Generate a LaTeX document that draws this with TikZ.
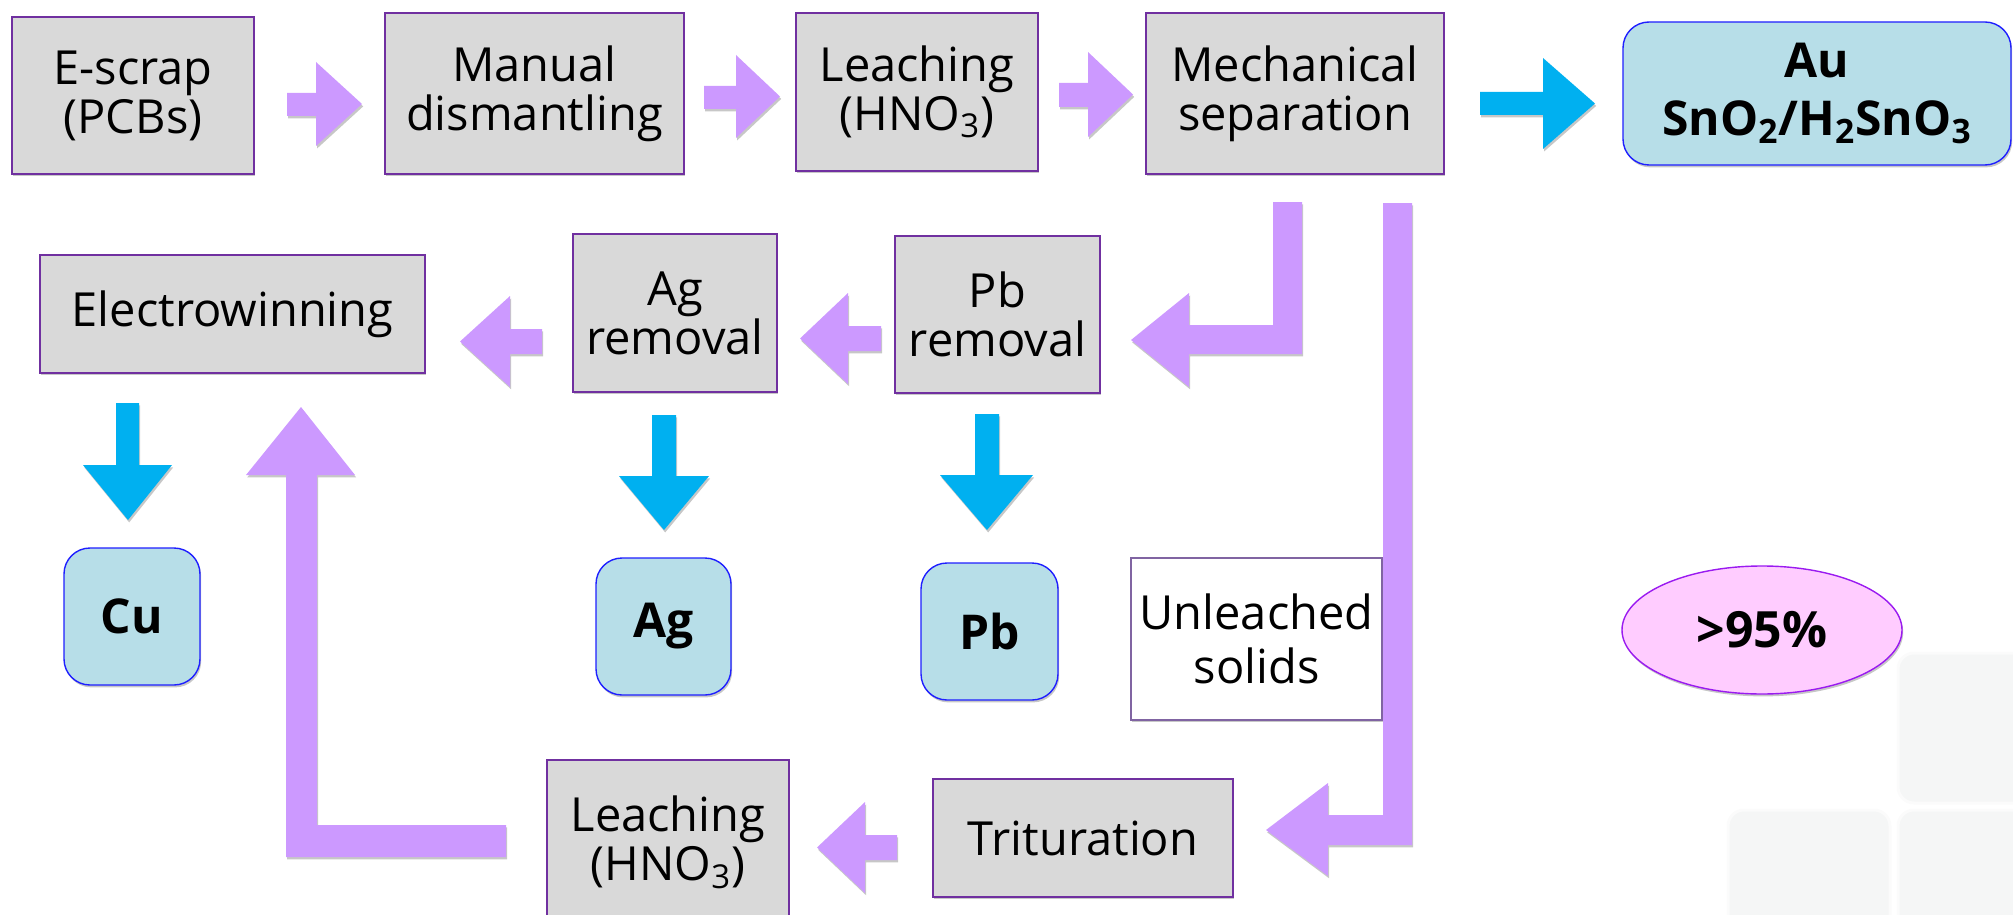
\documentclass[tikz,border=0pt]{standalone}
\usepackage{fontspec}
\setmainfont{Open Sans}
\usetikzlibrary{shapes.geometric,shadows}
\definecolor{boxgray}{HTML}{D9D9D9}
\definecolor{boxedge}{HTML}{7030A0}
\definecolor{parrow}{HTML}{CC99FF}
\definecolor{barrow}{HTML}{00B0F0}
\definecolor{bluefill}{HTML}{B7DEE8}
\definecolor{blueedge}{HTML}{1F1FFF}
\definecolor{pinkfill}{HTML}{FFCCFF}
\definecolor{pinkedge}{HTML}{9A1AF0}
\definecolor{tilefill}{HTML}{F5F6F6}
\definecolor{whiteedge}{HTML}{8064A2}
\begin{document}
\begin{tikzpicture}[x=0.5pt,y=-0.5pt,
  shad/.style={drop shadow={shadow xshift=0.6pt,shadow yshift=-1.2pt,opacity=0.22,fill=black}},
  gbox/.style={draw=boxedge,line width=0.7pt,fill=boxgray,inner sep=0pt,align=center,
    font=\fontsize{23.5}{24.5}\selectfont,shad},
  wbox/.style={draw=whiteedge,line width=0.6pt,fill=white,inner sep=0pt,align=center,
    font=\fontsize{23.5}{27}\selectfont,shad},
  bbox/.style={draw=blueedge,line width=0.7pt,fill=bluefill,rounded corners=13pt,inner sep=0pt,
    align=center,font=\fontsize{24}{29}\selectfont\bfseries,shad},
  pell/.style={ellipse,draw=pinkedge,line width=0.7pt,fill=pinkfill,inner sep=0pt,
    minimum width=140pt,minimum height=64pt,font=\fontsize{25}{29}\selectfont\bfseries,shad},
  sz/.style 2 args={minimum width=#1pt,minimum height=#2pt},
  parr/.style={fill=parrow,shad},
  barr/.style={fill=barrow,shad},
  tile/.style={fill=tilefill,draw=white!97!gray,line width=1.5pt,rounded corners=8pt}
]
\useasboundingbox (0,0) rectangle (2013,915);
% faint background tiles
\path[tile] (1898,653) rectangle (2040,803);
\path[tile] (1728,810) rectangle (1890,940);
\path[tile] (1898,810) rectangle (2040,940);

% gray process boxes
\node[gbox,sz={121}{78.5}]   (escrap)  at (133,95.5)    {E-scrap\\(PCBs)};
\node[gbox,sz={149.5}{80.5}] (manual)  at (534.5,93.5)  {Manual\\dismantling};
\node[gbox,sz={121}{79}]     (leachA)  at (917,92)      {Leaching\\(HNO\textsubscript{3})};
\node[gbox,sz={149}{80.5}]   (mech)    at (1295,93.5)   {Mechanical\\separation};
\node[gbox,sz={192.5}{59}]   (electro) at (232.5,314)   {Electrowinning};
\node[gbox,sz={102}{79}]     (agrem)   at (675,313)     {Ag\\removal};
\node[gbox,sz={102.5}{78.5}] (pbrem)   at (997.5,314.5) {Pb\\removal};
\node[gbox,sz={150}{59}]     (trit)    at (1083,838)    {Trituration};
\node[gbox,sz={121}{82.5}]   (leachB)  at (668,842.5)   {Leaching\\(HNO\textsubscript{3})};
\node[wbox,sz={125.5}{81}]   (unl)     at (1256.5,639)  {Unleached\\solids};

% blue product boxes
\node[bbox,sz={194}{71.5}]   (au) at (1817,93.5)  {Au\\SnO\textsubscript{2}/H\textsubscript{2}SnO\textsubscript{3}};
\node[bbox,sz={68}{68.5}]    (cu) at (132,616.5)  {Cu};
\node[bbox,sz={67.5}{68.5}]  (ag) at (663.5,626.5) {Ag};
\node[bbox,sz={68.5}{68.5}]  (pb) at (989.5,631.5) {Pb};

\node[pell] (pct) at (1762,630) {>95\%};

% purple block arrows
\path[parr] (287,93)--(316,93)--(316,62)--(362,104)--(316,146)--(316,116)--(287,116)--cycle;
\path[parr] (704,86)--(736,86)--(736,55)--(780,96.5)--(736,138)--(736,109)--(704,109)--cycle;
\path[parr] (1059,83)--(1088,83)--(1088,52)--(1133,94.5)--(1088,137)--(1088,107)--(1059,107)--cycle;
\path[parr] (881,326)--(848,326)--(848,293)--(800,338.5)--(848,384)--(848,351)--(881,351)--cycle;
\path[parr] (542,329)--(510,329)--(510,296)--(460,341.5)--(510,387)--(510,354)--(542,354)--cycle;
\path[parr] (1273,202)--(1302,202)--(1302,354)--(1189,354)--(1189,387)--(1131,340)--(1189,293)--(1189,325)--(1273,325)--cycle;
\path[parr] (1383,203)--(1412,203)--(1412,845)--(1328,845)--(1328,876)--(1266,830)--(1328,783)--(1328,815)--(1383,815)--cycle;
\path[parr] (897,835)--(865,835)--(865,802)--(817,847.5)--(865,893)--(865,860)--(897,860)--cycle;
\path[parr] (506,825)--(506,857)--(286,857)--(286,475)--(246,475)--(301,407)--(355,475)--(317,475)--(317,825)--cycle;

% blue block arrows
\path[barr] (1480,92)--(1543,92)--(1543,58)--(1595,103.5)--(1543,149)--(1543,115)--(1480,115)--cycle;
\path[barr] (116,403)--(139,403)--(139,465)--(172,465)--(128,520)--(83,465)--(116,465)--cycle;
\path[barr] (652,415)--(676,415)--(676,476)--(709,476)--(664,530)--(619,476)--(652,476)--cycle;
\path[barr] (975,414)--(999,414)--(999,475)--(1033,475)--(987,530)--(940,475)--(975,475)--cycle;
\end{tikzpicture}
\end{document}
